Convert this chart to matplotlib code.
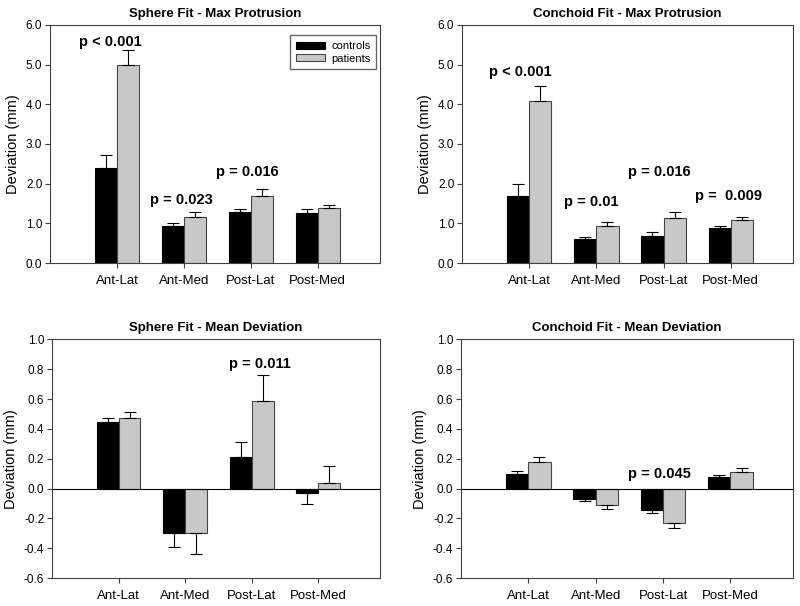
import matplotlib
matplotlib.use("Agg")
import matplotlib.pyplot as plt
import numpy as np

plt.rcParams['font.family'] = ['Liberation Sans', 'DejaVu Sans']

categories = ['Ant-Lat', 'Ant-Med', 'Post-Lat', 'Post-Med']

# sphere fit - max protrusion
sphere_max_ctrl = [2.39, 0.92, 1.28, 1.26]
sphere_max_ctrl_err = [0.32, 0.09, 0.09, 0.10]
sphere_max_pat = [4.98, 1.17, 1.69, 1.38]
sphere_max_pat_err = [0.39, 0.11, 0.17, 0.08]

# conchoid fit - max protrusion
conch_max_ctrl = [1.68, 0.61, 0.69, 0.87]
conch_max_ctrl_err = [0.32, 0.05, 0.09, 0.07]
conch_max_pat = [4.08, 0.93, 1.13, 1.09]
conch_max_pat_err = [0.37, 0.10, 0.15, 0.06]

# sphere fit - mean deviation
sphere_mean_ctrl = [0.443, -0.30, 0.21, -0.03]
sphere_mean_ctrl_err = [0.027, 0.09, 0.10, 0.075]
sphere_mean_pat = [0.47, -0.30, 0.59, 0.035]
sphere_mean_pat_err = [0.04, 0.14, 0.17, 0.115]

# conchoid fit - mean deviation
conch_mean_ctrl = [0.10, -0.07, -0.145, 0.078]
conch_mean_ctrl_err = [0.02, 0.015, 0.02, 0.01]
conch_mean_pat = [0.175, -0.11, -0.23, 0.11]
conch_mean_pat_err = [0.035, 0.03, 0.035, 0.03]

# p-value labels (text, x, y) per panel
sphere_max_p = [('p < 0.001', -0.1, 5.57), ('p = 0.023', 0.97, 1.59), ('p = 0.016', 1.95, 2.29)]
conch_max_p = [('p < 0.001', -0.13, 4.8), ('p = 0.01', 0.93, 1.54), ('p = 0.016', 1.94, 2.29),
               ('p =  0.009', 2.97, 1.68)]
sphere_mean_p = [('p = 0.011', 2.12, 0.837)]
conch_mean_p = [('p = 0.045', 1.95, 0.10)]

fig = plt.figure(figsize=(8.0, 6.06), dpi=100)

x = np.arange(len(categories))
w = 0.33
gray = '#c8c8c8'
spine_col = '#404040'


def one_sided(vals, errs):
    """error bar only on the side away from zero"""
    lo = [e if v < 0 else 0 for v, e in zip(vals, errs)]
    hi = [e if v >= 0 else 0 for v, e in zip(vals, errs)]
    return [lo, hi]


def panel(rect, title, ctrl, ctrl_err, pat, pat_err, ylim, yticks, pvals, legend=False, zero_line=False):
    ax = fig.add_axes(rect)
    ax.bar(x - w / 2, ctrl, w, color='black', edgecolor='black', linewidth=0.8, label='controls')
    ax.bar(x + w / 2, pat, w, color=gray, edgecolor='#444444', linewidth=0.8, label='patients')
    ax.errorbar(x - w / 2, ctrl, yerr=one_sided(ctrl, ctrl_err), fmt='none', ecolor='black',
                elinewidth=0.8, capsize=4, capthick=0.8)
    ax.errorbar(x + w / 2, pat, yerr=one_sided(pat, pat_err), fmt='none', ecolor='black',
                elinewidth=0.8, capsize=4, capthick=0.8)
    if zero_line:
        ax.axhline(0, color='black', linewidth=0.8)
    ax.set_xlim(-1.0, 3.93)
    ax.set_ylim(*ylim)
    ax.set_yticks(yticks)
    ax.set_yticklabels(['%.1f' % t for t in yticks], fontsize=8.5)
    ax.set_xticks(x)
    ax.set_xticklabels(categories, fontsize=9.5)
    ax.tick_params(direction='out', length=3.5, width=0.8, color=spine_col)
    ax.tick_params(axis='x', pad=5)
    ax.tick_params(axis='y', pad=2)
    ax.set_ylabel('Deviation (mm)', fontsize=10.5, labelpad=4)
    ax.set_title(title, fontsize=9.5, fontweight='bold', pad=6)
    for s in ax.spines.values():
        s.set_linewidth(0.8)
        s.set_color(spine_col)
    for txt, px, py in pvals:
        ax.text(px, py, txt, fontsize=10.5, fontweight='bold', ha='center', va='center')
    if legend:
        ax.legend(loc='upper right', bbox_to_anchor=(0.995, 0.965), fontsize=8, frameon=True,
                  fancybox=False, edgecolor=spine_col, handlelength=2.6, handleheight=0.6,
                  borderpad=0.5, labelspacing=0.25, handletextpad=0.6, borderaxespad=0.2)
    return ax


top_ticks = np.arange(0, 6.01, 1.0)
bot_ticks = np.round(np.arange(-0.6, 1.01, 0.2), 1)

panel([0.0625, 0.566, 0.4125, 0.393], 'Sphere Fit - Max Protrusion',
      sphere_max_ctrl, sphere_max_ctrl_err, sphere_max_pat, sphere_max_pat_err,
      (0, 6), top_ticks, sphere_max_p, legend=True)
panel([0.5775, 0.566, 0.414, 0.393], 'Conchoid Fit - Max Protrusion',
      conch_max_ctrl, conch_max_ctrl_err, conch_max_pat, conch_max_pat_err,
      (0, 6), top_ticks, conch_max_p)
panel([0.065, 0.046, 0.41, 0.394], 'Sphere Fit - Mean Deviation',
      sphere_mean_ctrl, sphere_mean_ctrl_err, sphere_mean_pat, sphere_mean_pat_err,
      (-0.6, 1.0), bot_ticks, sphere_mean_p, zero_line=True)
panel([0.5762, 0.046, 0.4152, 0.394], 'Conchoid Fit - Mean Deviation',
      conch_mean_ctrl, conch_mean_ctrl_err, conch_mean_pat, conch_mean_pat_err,
      (-0.6, 1.0), bot_ticks, conch_mean_p, zero_line=True)

fig.savefig('out.png', dpi=100)
